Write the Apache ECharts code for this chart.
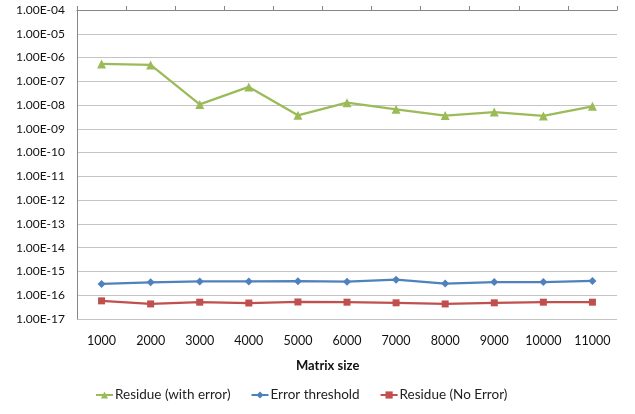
<!DOCTYPE html>
<html>
<head>
<meta charset="utf-8">
<script src="https://cdn.jsdelivr.net/npm/echarts@6/dist/echarts.min.js"></script>
<style>
  html, body { margin: 0; padding: 0; background: #fff; }
  #chart { width: 635px; height: 414px; }
</style>
</head>
<body>
<div id="chart"></div>
<script>
// Matrix sizes on the category axis
const matrixSizes = ['1000', '2000', '3000', '4000', '5000', '6000', '7000', '8000', '9000', '10000', '11000'];

// Residue when an error is injected
const residueWithError = [5.4e-7, 4.9e-7, 1.07e-8, 5.8e-8, 3.7e-9, 1.26e-8, 6.6e-9, 3.6e-9, 5.1e-9, 3.5e-9, 8.9e-9];

// Detection threshold
const errorThreshold = [3.0e-16, 3.5e-16, 3.8e-16, 3.8e-16, 3.9e-16, 3.7e-16, 4.5e-16, 3.1e-16, 3.6e-16, 3.6e-16, 4.0e-16];

// Residue without any error
const residueNoError = [5.8e-17, 4.3e-17, 5.1e-17, 4.7e-17, 5.2e-17, 5.1e-17, 4.8e-17, 4.3e-17, 4.8e-17, 5.1e-17, 5.1e-17];

const FONT = 'Lato, "Open Sans", sans-serif';

// Excel-style scientific label, e.g. 1.00E-04
function sci(v) {
  const s = Number(v).toExponential(2).toUpperCase();
  const m = s.match(/^([\d.]+)E([+-])(\d+)$/);
  if (!m) return s;
  const exp = m[3].length < 2 ? '0' + m[3] : m[3];
  return m[1] + 'E' + m[2] + exp;
}

const chart = echarts.init(document.getElementById('chart'), null, { renderer: 'canvas' });

chart.setOption({
  animation: false,
  backgroundColor: '#ffffff',
  grid: { left: 77, right: 18, top: 10, bottom: 95, containLabel: false },
  legend: {
    bottom: 7,
    left: 90,
    itemGap: 20,
    itemWidth: 17,
    itemHeight: 9,
    textStyle: { fontFamily: FONT, fontSize: 13.5, color: '#222', padding: [0, 0, 0, -3] },
    data: ['Residue (with error)', 'Error threshold', 'Residue (No Error)']
  },
  xAxis: [
    {
      type: 'category',
      data: matrixSizes,
      position: 'bottom',
      boundaryGap: true,
      axisLine: { show: false },
      axisTick: { show: false },
      axisLabel: { fontFamily: FONT, fontSize: 12.5, color: '#111', margin: 15 }
    },
    {
      type: 'category',
      data: matrixSizes,
      position: 'top',
      boundaryGap: true,
      axisLine: { show: true, lineStyle: { color: '#868686', width: 1 } },
      axisTick: { show: true, inside: false, length: 4, alignWithLabel: false, lineStyle: { color: '#868686' } },
      axisLabel: { show: false }
    }
  ],
  yAxis: {
    type: 'log',
    logBase: 10,
    min: 1e-17,
    max: 1e-4,
    interval: 1,
    axisLine: { show: true, lineStyle: { color: '#868686', width: 1 } },
    axisTick: { show: false },
    splitLine: { show: true, lineStyle: { color: '#c4c4c4', width: 1 } },
    axisLabel: { fontFamily: FONT, fontSize: 12, color: '#111', margin: 12, formatter: sci }
  },
  graphic: [
    {
      type: 'text',
      left: 296,
      top: 359,
      style: { text: 'Matrix size', fontFamily: FONT, fontSize: 13, fontWeight: 'bold', fill: '#111' }
    }
  ],
  series: [
    {
      name: 'Residue (with error)',
      type: 'line',
      data: residueWithError,
      color: '#9BBB59',
      symbol: 'triangle',
      symbolSize: 9,
      lineStyle: { width: 2.25 },
      itemStyle: { color: '#9BBB59' }
    },
    {
      name: 'Error threshold',
      type: 'line',
      data: errorThreshold,
      color: '#4F81BD',
      symbol: 'diamond',
      symbolSize: 8,
      lineStyle: { width: 2.25 },
      itemStyle: { color: '#4F81BD' }
    },
    {
      name: 'Residue (No Error)',
      type: 'line',
      data: residueNoError,
      color: '#C0504D',
      symbol: 'rect',
      symbolSize: 7,
      lineStyle: { width: 2.25 },
      itemStyle: { color: '#C0504D' }
    }
  ]
});
</script>
</body>
</html>
